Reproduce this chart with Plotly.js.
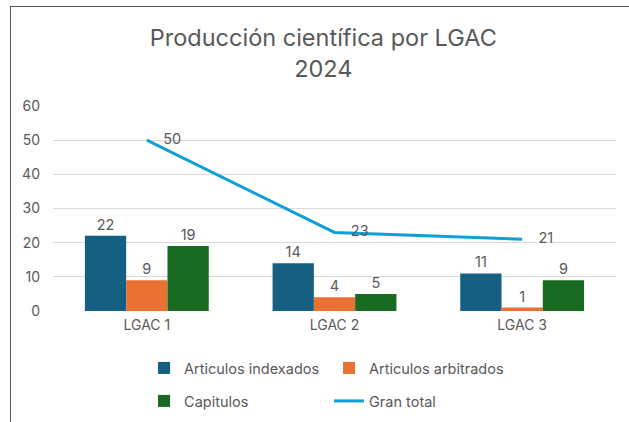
<!DOCTYPE html>
<html>
<head>
<meta charset="utf-8">
<script src="https://cdn.plot.ly/plotly-3.0.1.min.js"></script>
<style>
html,body{margin:0;padding:0;background:#fff;}
#wrap{position:relative;width:629px;height:422px;overflow:hidden;}
#chart{width:629px;height:422px;}
#frame{position:absolute;left:10px;top:6px;width:640px;height:440px;border-left:1.5px solid #555;border-top:1.5px solid #555;pointer-events:none;}
</style>
</head>
<body>
<div id="wrap"><div id="chart"></div><div id="frame"></div></div>
<script>
const categories = ["LGAC 1", "LGAC 2", "LGAC 3"];
const articulosIndexados = [22, 14, 11];
const articulosArbitrados = [9, 4, 1];
const capitulos = [19, 5, 9];
const granTotal = [50, 23, 21];
const yTicks = [0, 10, 20, 30, 40, 50, 60];

const FONT = "Inter, 'Open Sans', sans-serif";
const TXT = "#595959";

function barTrace(name, vals, color, legend) {
  return {
    type: "bar", name: name, x: categories, y: vals,
    marker: {color: color}, legend: legend,
    text: vals.map(String), textposition: "outside",
    textfont: {family: FONT, size: 14.5, color: TXT},
    cliponaxis: false, hoverinfo: "skip"
  };
}

const data = [
  barTrace("Articulos indexados", articulosIndexados, "#156082", "legend"),
  barTrace("Articulos arbitrados", articulosArbitrados, "#E97132", "legend"),
  barTrace("Capitulos", capitulos, "#196B24", "legend2"),
  {
    type: "scatter", mode: "lines+text", name: "Gran total", legend: "legend2",
    x: categories, y: granTotal,
    line: {color: "#0F9ED5", width: 3},
    text: granTotal.map(v => "\u00a0\u00a0\u00a0\u00a0" + v),
    textposition: "middle right",
    textfont: {family: FONT, size: 14.5, color: TXT},
    cliponaxis: false, hoverinfo: "skip"
  }
];

const legendCommon = {
  orientation: "h", xref: "container", yref: "container",
  x: 0.229, xanchor: "left", yanchor: "middle",
  entrywidth: 140, entrywidthmode: "pixels", traceorder: "normal",
  font: {family: FONT, size: 14.5, color: TXT}, bgcolor: "rgba(0,0,0,0)"
};

const layout = {
  width: 629, height: 422,
  margin: {l: 53, r: 13, t: 106, b: 111},
  paper_bgcolor: "#fff", plot_bgcolor: "#fff",
  font: {family: FONT, color: TXT},
  title: {
    text: "Producción científica por LGAC<br>2024",
    font: {family: FONT, size: 23.5, color: TXT},
    x: 0.514, xanchor: "center", yref: "container", y: 0.89, yanchor: "top"
  },
  barmode: "group", bargap: 0.34, bargroupgap: 0,
  xaxis: {
    type: "category", showgrid: false, zeroline: false, showline: false,
    ticks: "", ticklabelstandoff: 4, tickfont: {family: FONT, size: 14, color: TXT}
  },
  yaxis: {
    range: [0, 60], tickvals: yTicks, ticktext: yTicks.map(String),
    showgrid: true, gridcolor: "#D9D9D9", gridwidth: 1,
    zeroline: false, showline: false, ticks: "", ticklabelstandoff: 12,
    tickfont: {family: FONT, size: 14, color: TXT}
  },
  showlegend: true,
  legend: Object.assign({}, legendCommon, {y: 1 - 368 / 422}),
  legend2: Object.assign({}, legendCommon, {y: 1 - 401 / 422})
};

Plotly.newPlot("chart", data, layout, {staticPlot: true, displayModeBar: false});
</script>
</body>
</html>
